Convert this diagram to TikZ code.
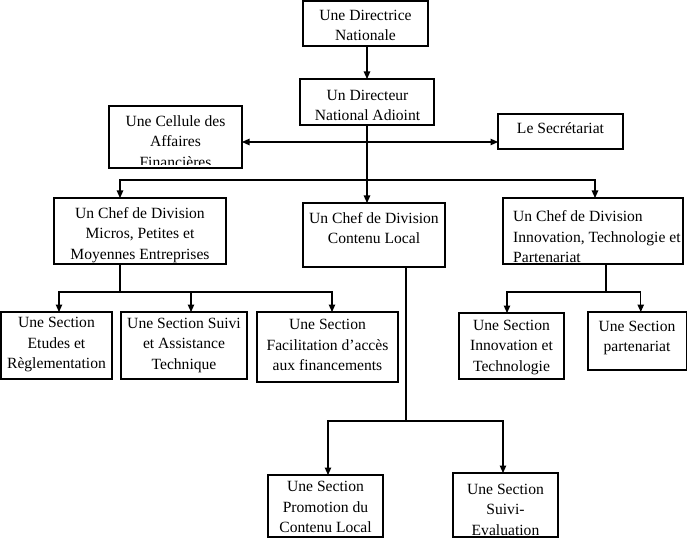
\documentclass[tikz,border=0pt]{standalone}
\usepackage{fontspec}
\setmainfont{Liberation Serif}
\usetikzlibrary{arrows.meta}
\newcommand\boxfont{\fontsize{15.6}{20.5}\selectfont}
\newcommand\mkbox[5]{\node[bx, minimum width={(#4-#2)*1pt}, minimum height={(#5-#3)*1pt}] (#1) at ({(#2+#4)/2},{(#3+#5)/2}) {};}
\begin{document}
\begin{tikzpicture}[x=1pt,y=-1pt,
  bx/.style={draw, line width=1.1pt, inner sep=0pt, outer sep=0pt},
  tx/.style={inner sep=0pt, align=center, font=\boxfont},
  ln/.style={line width=1.1pt},
  arr/.style={line width=1.1pt, -{Triangle[length=7.5pt,width=6.5pt]}}
]
\useasboundingbox (0,0) rectangle (688,540);

% boxes and texts
\mkbox{dn}{303}{1}{428}{46}
\node[tx] (dnT) at (365.5,25.5) {Une Directrice\\Nationale};
\mkbox{dna}{300}{79}{434}{125}
\node[tx] (dnaT) at (367.5,105.5) {Un Directeur\\National Adioint};
\mkbox{caf}{109}{106}{242}{168}
\begin{scope}
\clip (caf.north west) rectangle ([yshift=3pt]caf.south east);
\node[tx] (cafT) at (175.5,141.3) {Une Cellule des\\Affaires\\Financières};
\end{scope}
\mkbox{sec}{498}{114}{623}{149}
\node[tx] (secT) at (560.5,128) {Le Secrétariat};
\mkbox{dmpe}{54}{198}{226}{264}
\node[tx] (dmpeT) at (140,235) {Un Chef de Division\\Micros, Petites et\\Moyennes Entreprises};
\mkbox{dcl}{303}{203}{445}{267}
\node[tx] (dclT) at (374,228) {Un Chef de Division\\Contenu Local};
\mkbox{dit}{503}{198}{683}{264}
\node[tx, align=left, anchor=west] (ditT) at (513,237) {Un Chef de Division\\Innovation, Technologie et\\Partenariat};
\mkbox{sA}{1}{312}{112}{379}
\node[tx] (sAT) at (56.5,345) {Une Section\\Etudes et\\Règlementation};
\mkbox{sB}{121}{312}{247}{379}
\node[tx] (sBT) at (184,345) {Une Section Suivi\\et Assistance\\Technique};
\mkbox{sC}{257}{312}{398}{382}
\node[tx] (sCT) at (327.5,345) {Une Section\\Facilitation d’accès\\aux financements};
\mkbox{sF}{459}{313}{564}{379}
\node[tx] (sFT) at (511.5,347.5) {Une Section\\Innovation et\\Technologie};
\mkbox{sG}{588}{312}{686.5}{370}
\node[tx] (sGT) at (637,338) {Une Section\\partenariat};
\mkbox{sD}{268}{475}{383}{537}
\node[tx] (sDT) at (325.5,507) {Une Section\\Promotion du\\Contenu Local};
\mkbox{sE}{453}{473}{558}{537}
\begin{scope}
\clip (sE.north west) rectangle ([yshift=2pt]sE.south east);
\node[tx] (sET) at (505.5,509.7) {Une Section\\Suivi-\\Evaluation};
\end{scope}

% connectors
\coordinate (hb) at (367,142);
\coordinate (hd) at (367,180);
\draw[arr] (dna.north |- dn.south) -- (dna.north);
\draw[ln] (dna.south) -- (hd);
\draw[arr] (hd) -- (hd |- dcl.north);
\draw[arr] (hb) -- (caf.east |- hb);
\draw[arr] (hb) -- (sec.west |- hb);
\draw[arr] (hd) -| ([xshift=-20pt]dmpe.north);
\draw[arr] (hd) -| ([xshift=2pt]dit.north);

\coordinate (jL) at (120,292);
\draw[ln] ([xshift=-20pt]dmpe.south) -- (jL);
\draw[arr] (jL) -| ([xshift=2.5pt]sA.north);
\draw[arr] (jL) -| ([xshift=7pt]sB.north);
\draw[arr] (jL) -| ([xshift=4.5pt]sC.north);

\coordinate (jC) at (406,421);
\draw[ln] ([xshift=32pt]dcl.south) -- (jC);
\draw[arr] (jC) -| ([xshift=2.5pt]sD.north);
\draw[arr] (jC) -| ([xshift=-2.5pt]sE.north);

\coordinate (jR) at (606,292);
\draw[ln] ([xshift=13pt]dit.south) -- (jR);
\draw[arr] (jR) -| ([xshift=-4.5pt]sF.north);
\draw[arr] (jR) -| ([xshift=3.5pt]sG.north);
\end{tikzpicture}
\end{document}
